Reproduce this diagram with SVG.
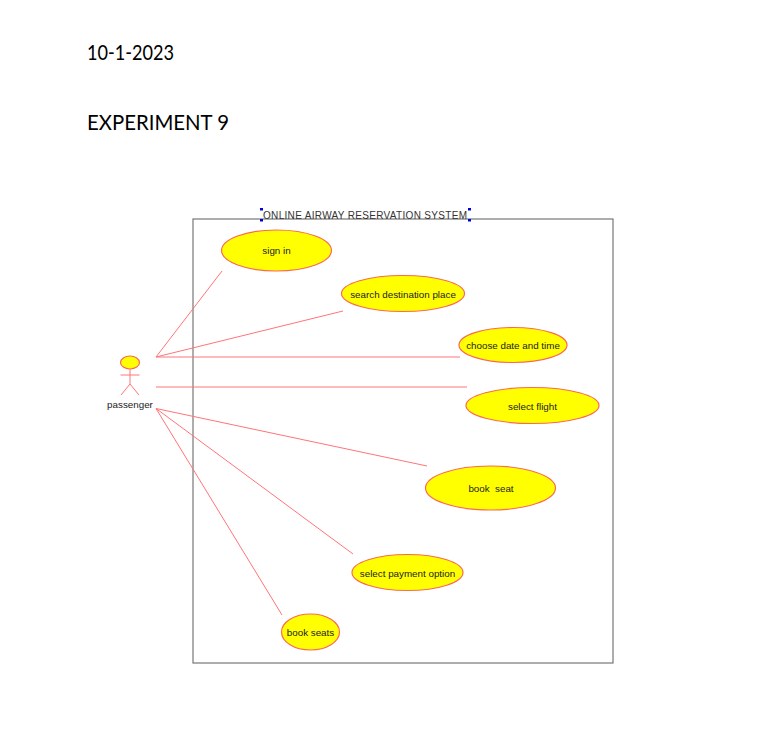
<svg xmlns="http://www.w3.org/2000/svg" width="763" height="750" viewBox="0 0 763 750">
<style>
.h{font-family:"Lato","Open Sans",sans-serif;font-size:21.500px;fill:#000}
.l{font-family:"Liberation Sans",Arial,sans-serif;font-size:9.800px;fill:#222;text-anchor:middle}
.u{fill:#ffff00;stroke:#fb6a50;stroke-width:1.200}
.c line{stroke:#ff7478;stroke-width:1}
.a{fill:none;stroke:#ff7478;stroke-width:1}
.s{fill:#0000e0}
</style>
<rect width="763" height="750" fill="#fff"/>
<text class="h" x="87" y="60" textLength="87" lengthAdjust="spacingAndGlyphs">10-1-2023</text>
<text class="h" x="87" y="130" textLength="142" lengthAdjust="spacingAndGlyphs">EXPERIMENT 9</text>
<g id="system">
<rect x="193" y="219" width="420" height="444" fill="none" stroke="#777" stroke-width="1.200"/>
<text x="263" y="218.500" font-family="Liberation Sans,Arial,sans-serif" font-size="10" textLength="204" fill="#333">ONLINE AIRWAY RESERVATION SYSTEM</text>
<rect class="s" x="260" y="208" width="3" height="2.500"/><rect class="s" x="468" y="208" width="3" height="2.500"/><rect class="s" x="260" y="219" width="3" height="2.500"/><rect class="s" x="468" y="219" width="3" height="2.500"/>
</g>
<g class="c" id="connectors">
<line x1="156" y1="357" x2="222" y2="271"/>
<line x1="156" y1="357" x2="343" y2="311"/>
<line x1="156" y1="357" x2="460" y2="357"/>
<line x1="156" y1="387" x2="467" y2="387"/>
<line x1="156" y1="408.500" x2="427" y2="466"/>
<line x1="156" y1="408.500" x2="353" y2="554"/>
<line x1="156" y1="408.500" x2="282" y2="615"/>
</g>
<g id="passenger">
<ellipse class="u" cx="130" cy="362.500" rx="9.500" ry="6.500"/>
<path class="a" d="M130 369V384M120.500 375H139.500M130 384L121 395M130 384L139 395"/>
<text class="l" x="130" y="408">passenger</text>
</g>
<g id="u1"><ellipse class="u" cx="276.500" cy="250.500" rx="55" ry="20.500"/><text class="l" x="276.500" y="254">sign in</text></g>
<g id="u2"><ellipse class="u" cx="403" cy="293.500" rx="61.500" ry="18"/><text class="l" x="403" y="297.500">search destination place</text></g>
<g id="u3"><ellipse class="u" cx="513" cy="345" rx="54" ry="17.500"/><text class="l" x="513" y="349">choose date and time</text></g>
<g id="u4"><ellipse class="u" cx="532.500" cy="405.500" rx="66.500" ry="18"/><text class="l" x="532.500" y="409.500">select flight</text></g>
<g id="u5"><ellipse class="u" cx="490.500" cy="488" rx="65" ry="22"/><text class="l" x="491" y="492" xml:space="preserve">book  seat</text></g>
<g id="u6"><ellipse class="u" cx="407.500" cy="572.500" rx="55.500" ry="18"/><text class="l" x="407.500" y="576.500">select payment option</text></g>
<g id="u7"><ellipse class="u" cx="310.500" cy="632" rx="29" ry="18"/><text class="l" x="310.500" y="636">book seats</text></g>
</svg>
